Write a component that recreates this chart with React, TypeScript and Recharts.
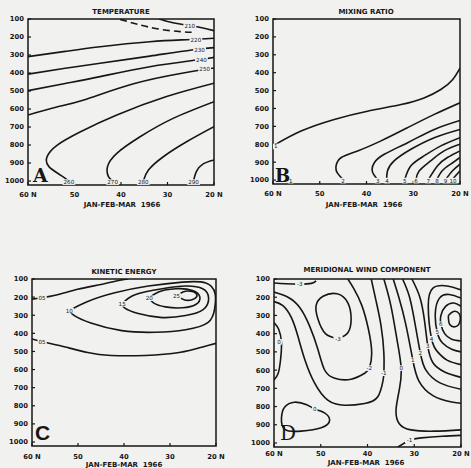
import { ComposedChart, Line, XAxis, YAxis, ReferenceDot, ReferenceArea } from "recharts";

type Pt = [number, number]; // [latitude, pressure mb]
interface Contour { pts: Pt[]; dashed?: boolean }
interface Tag { lat: number; p: number; text: string }

const latTicks = [60, 50, 40, 30, 20];
const pressureTicks = [100, 200, 300, 400, 500, 600, 700, 800, 900, 1000];

// A - temperature
const tempContours: Contour[] = [
  { pts: [[31.8, 100], [29.5, 117], [27.3, 128], [23.1, 146], [20, 165]] },
  { pts: [[40.2, 102], [35.9, 133], [31.6, 157], [27.3, 170], [24.8, 174]], dashed: true },
  { pts: [[60, 309], [52, 280], [44.5, 254], [33.8, 226], [25.9, 215], [20, 207]] },
  { pts: [[60, 406], [52, 374], [44.5, 346], [33.8, 306], [24.8, 272], [20, 259]] },
  { pts: [[60, 498], [52, 458], [44.5, 420], [33.8, 365], [23.8, 328], [20, 313]] },
  { pts: [[60, 633], [54, 590], [48, 550], [37.3, 460], [26.6, 400], [20, 372]] },
  { pts: [[20, 457], [30.2, 531], [40.9, 633], [48.7, 726], [53.7, 800], [55.9, 865], [55.5, 920], [53, 967], [51.2, 1000]] },
  { pts: [[20, 559], [28.8, 652], [35.9, 754], [40.9, 846], [42.9, 920], [42.7, 976], [41.8, 1000]] },
  { pts: [[20, 698], [25.9, 782], [30.9, 865], [34.1, 939], [35.2, 1000]] },
  { pts: [[20, 883], [22.4, 906], [23.8, 948], [24.4, 1000]] },
];
const tempLabels: Tag[] = [
  { lat: 25.2, p: 137, text: "210" },
  { lat: 23.9, p: 215, text: "220" },
  { lat: 23.1, p: 270, text: "230" },
  { lat: 22.7, p: 325, text: "240" },
  { lat: 22.0, p: 380, text: "250" },
  { lat: 51.2, p: 1006, text: "260" },
  { lat: 41.8, p: 1006, text: "270" },
  { lat: 35.2, p: 1006, text: "280" },
  { lat: 24.4, p: 1006, text: "290" },
];

// B - mixing ratio
const mixContours: Contour[] = [
  { pts: [[60, 809], [54, 726], [46.9, 661], [39.8, 615], [32.6, 578], [27.7, 541], [24.1, 494], [21.6, 439], [20, 374]] },
  { pts: [[20, 568], [25.5, 633], [31.2, 707], [36.9, 781], [41.9, 837], [45.4, 874], [46.5, 920], [46.3, 957], [45.1, 995]] },
  { pts: [[20, 667], [25.5, 717], [31.2, 791], [36.2, 856], [38.3, 902], [38.8, 939], [38.5, 967], [37.7, 995]] },
  { pts: [[20, 717], [25.5, 763], [30.5, 828], [34.1, 893], [35.5, 948], [35.7, 995]] },
  { pts: [[20, 763], [24.1, 809], [27.7, 865], [30.5, 920], [31.8, 995]] },
  { pts: [[20, 800], [23.4, 837], [26.3, 893], [28.7, 948], [29.4, 995]] },
  { pts: [[20, 837], [22.7, 874], [24.8, 920], [26.7, 995]] },
  { pts: [[20, 874], [22, 911], [23.8, 948], [24.9, 995]] },
  { pts: [[20, 911], [21.6, 948], [23, 995]] },
  { pts: [[20, 948], [21.6, 995]] },
];
const mixLabels: Tag[] = [
  { lat: 59.4, p: 812, text: "1" },
  { lat: 56.2, p: 1003, text: "1" },
  { lat: 45.0, p: 1003, text: "2" },
  { lat: 37.6, p: 1003, text: "3" },
  { lat: 35.6, p: 1003, text: "4" },
  { lat: 31.8, p: 1003, text: "5" },
  { lat: 29.4, p: 1003, text: "6" },
  { lat: 26.8, p: 1003, text: "7" },
  { lat: 24.9, p: 1003, text: "8" },
  { lat: 23.1, p: 1003, text: "9" },
  { lat: 21.5, p: 1003, text: "10" },
];

// C - kinetic energy
const keContours: Contour[] = [
  { pts: [[60, 211], [55.2, 191], [50.1, 157], [45, 130], [40.9, 107], [39.1, 100]] },
  { pts: [[60, 431], [57.8, 446], [53.8, 469], [47.9, 506], [42.8, 522], [35.4, 522], [28, 506], [22.9, 475], [20, 455]] },
  { pts: [[51.9, 274], [47.9, 224], [42, 176], [34.7, 139], [27.3, 117], [22.2, 122], [20.2, 180], [20.3, 265], [21.7, 339], [26.6, 380], [33.2, 394], [40.5, 385], [47.2, 343], [50.8, 302], [51.9, 274]] },
  { pts: [[40.4, 237], [37.6, 187], [31.7, 154], [26.6, 139], [22.9, 154], [21.6, 206], [22.8, 269], [26.6, 302], [31.7, 313], [36.9, 291], [39.8, 261], [40.4, 237]] },
  { pts: [[34.5, 206], [32.5, 172], [28.8, 154], [25.1, 163], [23.5, 200], [24.4, 241], [27.3, 259], [31, 254], [33.6, 232], [34.5, 206]] },
  { pts: [[28.3, 194], [27.2, 172], [25.6, 167], [24.4, 178], [24.2, 198], [25.2, 214], [26.8, 216], [28.3, 194]] },
];
const keLabels: Tag[] = [
  { lat: 57.8, p: 204, text: "05" },
  { lat: 57.8, p: 446, text: "05" },
  { lat: 51.9, p: 274, text: "10" },
  { lat: 40.4, p: 237, text: "15" },
  { lat: 34.5, p: 206, text: "20" },
  { lat: 28.6, p: 194, text: "25" },
];

// D - meridional wind component
const windContours: Contour[] = [
  { pts: [[60, 122], [57.5, 126], [54.5, 128], [52, 124], [51, 110]] },
  { pts: [[46.3, 428], [44.2, 395], [43.5, 320], [44.2, 231], [46.5, 181], [49.5, 195], [51, 246], [50.6, 320], [49, 400], [46.3, 428]] },
  { pts: [[60, 172], [57, 200], [54.5, 256], [52.4, 357], [50.6, 487], [49.2, 598], [47, 645], [43.5, 650], [40.6, 617], [39.6, 589], [39.1, 506], [39.8, 376], [41.2, 246], [42.9, 154], [44.2, 100]] },
  { pts: [[60, 224], [58.1, 246], [56.3, 311], [54.9, 413], [53.4, 543], [51.3, 672], [48.5, 765], [44.9, 793], [40.6, 783], [37.8, 746], [36.7, 660], [36.5, 617], [36.5, 506], [37.1, 357], [38.1, 228], [39.2, 100]] },
  { pts: [[36.5, 100], [35, 246], [33.7, 431], [32.8, 589], [33.2, 709], [33.9, 820], [33.2, 894], [30.7, 928], [25.7, 935], [20, 928]] },
  { pts: [[60, 339], [59, 376], [58.4, 450], [58.6, 543], [59.1, 617], [60, 654]] },
  { pts: [[51.3, 815], [53, 790], [55.6, 776], [57.7, 802], [58.4, 860], [57.7, 925], [54.2, 935], [49.9, 917], [48.1, 876], [49.2, 835], [51.3, 815]] },
  { pts: [[33.5, 1022], [31, 985], [28.5, 972], [24, 963], [20, 958]] },
  { pts: [[34.5, 100], [33.3, 200], [31.8, 350], [30.3, 546], [29, 660], [26, 740], [22, 775], [20, 782]] },
  { pts: [[32.5, 100], [31, 200], [29.8, 350], [28.7, 506], [27.5, 600], [24.5, 670], [20, 705]] },
  { pts: [[30.5, 100], [28.8, 200], [27.8, 330], [27.1, 469], [26, 560], [23.5, 610], [20, 640]] },
  { pts: [[20, 160], [23, 138], [26, 150], [27, 250], [26.3, 428], [25, 500], [23, 545], [20, 570]] },
  { pts: [[20, 205], [22.5, 185], [24.6, 205], [25.5, 290], [25.1, 391], [24, 450], [22, 485], [20, 500]] },
  { pts: [[20, 250], [21.5, 232], [23.3, 250], [24.3, 300], [24.3, 348], [23.5, 400], [22, 430], [20, 440]] },
  { pts: [[22.7, 300], [21.6, 278], [20.4, 290], [20.2, 330], [21, 360], [22.4, 350], [22.7, 300]] },
];
const windLabels: Tag[] = [
  { lat: 54.5, p: 128, text: "-3" },
  { lat: 46.3, p: 428, text: "-3" },
  { lat: 39.6, p: 589, text: "-2" },
  { lat: 36.5, p: 617, text: "-1" },
  { lat: 32.8, p: 589, text: "0" },
  { lat: 58.9, p: 445, text: "0" },
  { lat: 51.3, p: 815, text: "0" },
  { lat: 31.0, p: 985, text: "-1" },
  { lat: 30.3, p: 546, text: "1" },
  { lat: 28.7, p: 506, text: "2" },
  { lat: 27.1, p: 469, text: "3" },
  { lat: 26.3, p: 428, text: "4" },
  { lat: 25.1, p: 391, text: "5" },
  { lat: 24.3, p: 348, text: "6" },
];

const INK = "#161616";
const PAPER = "#f1f1ef";
const W = 235;
const H = 234;
const AXIS_FONT = { fill: INK, fontSize: 6.8, fontWeight: 700, fontFamily: "DejaVu Sans" };

const tagShape = (text: string) => (props: any) => {
  const { cx, cy } = props;
  const w = text.length * 3.6 + 2;
  return (
    <g>
      <rect x={cx - w / 2} y={cy - 2.8} width={w} height={5.6} fill={PAPER} />
      <text x={cx} y={cy + 2} textAnchor="middle" fontSize={5.6} fontFamily="DejaVu Sans" fill={INK}>
        {text}
      </text>
    </g>
  );
};

interface Plot { x0: number; x1: number; y0: number; y1: number }

function Panel({ left, top, plot, tickGap, contours, labels }: {
  left: number; top: number; plot: Plot; tickGap: number; contours: Contour[]; labels: Tag[];
}) {
  return (
    <div style={{ position: "absolute", left, top }}>
      <ComposedChart width={W} height={H} margin={{ top: plot.y0, right: W - plot.x1, left: 0, bottom: 0 }}>
        <XAxis
          dataKey="lat" type="number" domain={[20, 60]} reversed allowDataOverflow
          ticks={latTicks} interval={0} height={H - plot.y1}
          tickFormatter={(v: number) => (v === 60 || v === 20 ? `${v} N` : `${v}`)}
          axisLine={false} tickLine={{ stroke: INK, strokeWidth: 1.2 }} tickSize={-3} tickMargin={tickGap}
          tick={AXIS_FONT}
        />
        <YAxis
          type="number" domain={[100, 1022]} reversed allowDataOverflow
          ticks={pressureTicks} interval={0} width={plot.x0}
          axisLine={false} tickLine={{ stroke: INK, strokeWidth: 1.2 }} tickSize={-3} tickMargin={7}
          tick={AXIS_FONT}
        />
        {contours.map((c, i) => (
          <Line
            key={i}
            data={c.pts.map(([lat, p]) => ({ lat, p }))}
            dataKey="p" type="natural" stroke={INK} strokeWidth={1.6}
            strokeDasharray={c.dashed ? "7 4" : undefined}
            dot={false} activeDot={false} isAnimationActive={false}
          />
        ))}
        {labels.map((t, i) => (
          <ReferenceDot key={i} x={t.lat} y={t.p} r={1} ifOverflow="visible" shape={tagShape(t.text)} />
        ))}
        <ReferenceArea x1={20} x2={60} y1={100} y2={1022} fill="none" stroke={INK} strokeWidth={1.5} ifOverflow="visible" />
      </ComposedChart>
    </div>
  );
}

const titleStyle = { fontFamily: "DejaVu Sans", fontWeight: 700, fontSize: 7, fill: INK } as const;

export default function App() {
  return (
    <div style={{ position: "absolute", left: 0, top: 0, width: 471, height: 468, background: PAPER, overflow: "hidden" }}>
      <Panel left={0} top={0} plot={{ x0: 28, x1: 214, y0: 19, y1: 185 }} tickGap={10} contours={tempContours} labels={tempLabels} />
      <Panel left={236} top={0} plot={{ x0: 37, x1: 224, y0: 19, y1: 184 }} tickGap={10} contours={mixContours} labels={mixLabels} />
      <Panel left={0} top={234} plot={{ x0: 32, x1: 216, y0: 45, y1: 212 }} tickGap={11} contours={keContours} labels={keLabels} />
      <Panel left={236} top={234} plot={{ x0: 38, x1: 225, y0: 45, y1: 213 }} tickGap={7} contours={windContours} labels={windLabels} />
      <svg width={471} height={468} style={{ position: "absolute", left: 0, top: 0, pointerEvents: "none" }}>
        <text x={121} y={14.2} textAnchor="middle" {...titleStyle}>TEMPERATURE</text>
        <text x={366} y={14.2} textAnchor="middle" {...titleStyle}>MIXING RATIO</text>
        <text x={124} y={274} textAnchor="middle" {...titleStyle}>KINETIC ENERGY</text>
        <text x={367} y={272} textAnchor="middle" {...titleStyle}>MERIDIONAL  WIND  COMPONENT</text>
        <text x={122} y={206.5} textAnchor="middle" {...titleStyle} style={{ whiteSpace: "pre" }}>JAN-FEB-MAR  1966</text>
        <text x={364} y={206.5} textAnchor="middle" {...titleStyle} style={{ whiteSpace: "pre" }}>JAN-FEB-MAR  1966</text>
        <text x={124} y={466.5} textAnchor="middle" {...titleStyle} style={{ whiteSpace: "pre" }}>JAN-FEB-MAR  1966</text>
        <text x={366} y={464.5} textAnchor="middle" {...titleStyle} style={{ whiteSpace: "pre" }}>JAN-FEB-MAR  1966</text>
        <text x={33} y={182} fontFamily="DejaVu Serif" fontWeight={700} fontSize={19} fill={INK}>A</text>
        <text x={275} y={182} fontFamily="DejaVu Serif" fontWeight={700} fontSize={18} fill={INK}>B</text>
        <text x={35} y={440} fontFamily="Liberation Sans" fontWeight={700} fontSize={21} fill={INK}>C</text>
        <text x={280} y={440} fontFamily="DejaVu Serif" fontSize={20} fill={INK}>D</text>
      </svg>
    </div>
  );
}
